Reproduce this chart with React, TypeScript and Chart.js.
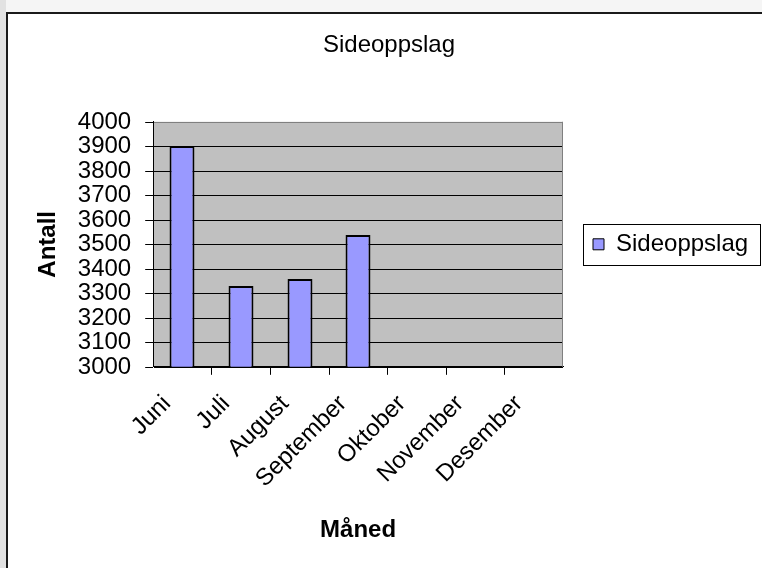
import React, { useEffect, useRef } from 'react';
import { Chart, registerables } from 'chart.js';

Chart.register(...registerables);

const CHART_TITLE = 'Sideoppslag';
const SERIES_LABEL = 'Sideoppslag';
const X_TITLE = 'Måned';
const Y_TITLE = 'Antall';
const categories = ['Juni', 'Juli', 'August', 'September', 'Oktober', 'November', 'Desember'];
const values: (number | null)[] = [3900, 3330, 3360, 3540, null, null, null];
const Y_MIN = 3000;
const Y_MAX = 4000;
const Y_STEP = 100;

const FONT = "'Liberation Sans', Arial, Helvetica, sans-serif";
const LEGEND_AREA_WIDTH = 199;

export default function App() {
  const ref = useRef<HTMLCanvasElement>(null);

  useEffect(() => {
    if (!ref.current) return;

    // Let the right-hand legend take the width the original layout gives it
    const legendWidth = {
      id: 'legendWidth',
      beforeLayout(chart: any) {
        const lg = chart.legend;
        if (lg && !lg._wPatched) {
          const orig = lg.fit;
          lg.fit = function (this: any) {
            orig.call(this);
            if (this.options.display) this.width = LEGEND_AREA_WIDTH;
          };
          lg._wPatched = true;
        }
      },
    };

    const plotDecor = {
      id: 'plotDecor',
      beforeDraw(chart: any) {
        const { ctx, chartArea: a } = chart;
        ctx.save();
        ctx.fillStyle = '#c0c0c0';
        ctx.fillRect(a.left, a.top, a.right - a.left, a.bottom - a.top);
        ctx.restore();
      },
      afterDatasetsDraw(chart: any) {
        const { ctx, chartArea: a } = chart;
        ctx.save();
        ctx.strokeStyle = '#808080';
        ctx.lineWidth = 1;
        ctx.beginPath();
        const x = Math.round(a.right) - 0.5;
        ctx.moveTo(x, a.top);
        ctx.lineTo(x, a.bottom);
        ctx.stroke();
        ctx.restore();
      },
      afterDraw(chart: any) {
        const lg = chart.legend;
        if (!lg || !lg.legendHitBoxes || !lg.legendHitBoxes.length) return;
        const hb = lg.legendHitBoxes[0];
        const { ctx } = chart;
        const cy = hb.top + hb.height / 2;
        const left = Math.round(hb.left - 10) + 0.5;
        const top = Math.round(cy - 20.5) + 0.5;
        ctx.save();
        ctx.strokeStyle = '#000';
        ctx.lineWidth = 1;
        ctx.strokeRect(left, top, chart.width - 1.5 - left, 41);
        ctx.restore();
      },
    };

    const chart = new Chart(ref.current, {
      type: 'bar',
      data: {
        labels: categories,
        datasets: [
          {
            label: SERIES_LABEL,
            data: values,
            backgroundColor: '#9999ff',
            borderColor: '#000000',
            borderWidth: 2,
            borderSkipped: false,
            barPercentage: 0.43,
            categoryPercentage: 1,
          },
        ],
      },
      options: {
        responsive: false,
        animation: false,
        devicePixelRatio: 1,
        color: '#000',
        layout: { padding: { left: 8, right: 0, top: 0, bottom: 0 } },
        plugins: {
          title: {
            display: true,
            text: CHART_TITLE,
            color: '#000',
            font: { family: FONT, size: 24, weight: 'normal' },
            padding: { top: 17, bottom: 62 },
          },
          legend: {
            display: true,
            position: 'right',
            fullSize: false,
            labels: {
              color: '#000',
              font: { family: FONT, size: 24 },
              boxWidth: 11,
              boxHeight: 11,
              padding: 30,
              generateLabels: (c: any) =>
                (Chart.defaults.plugins.legend.labels as any)
                  .generateLabels(c)
                  .map((l: any) => ({ ...l, lineWidth: 1 })),
            },
          },
          tooltip: { enabled: false },
        },
        scales: {
          x: {
            alignToPixels: true,
            offset: true,
            grid: {
              display: true,
              offset: true,
              drawOnChartArea: false,
              drawTicks: true,
              tickLength: 8,
              tickColor: '#000',
              color: '#000',
            },
            border: { display: true, color: '#000', width: 1 },
            ticks: {
              color: '#000',
              font: { family: FONT, size: 24 },
              autoSkip: false,
              minRotation: 45,
              maxRotation: 45,
              padding: 15,
              labelOffset: -15,
            },
            title: {
              display: true,
              text: X_TITLE,
              color: '#000',
              font: { family: FONT, size: 24, weight: 'bold' },
              padding: { top: 8, bottom: 23 },
            },
          },
          y: {
            alignToPixels: true,
            min: Y_MIN,
            max: Y_MAX,
            grid: {
              display: true,
              drawOnChartArea: true,
              drawTicks: true,
              tickLength: 8,
              tickColor: '#000',
              color: (ctx: any) => (ctx.tick && ctx.tick.value === Y_MAX ? '#808080' : '#000'),
              lineWidth: 1,
            },
            border: { display: true, color: '#000', width: 1 },
            ticks: {
              stepSize: Y_STEP,
              autoSkip: false,
              color: '#000',
              font: { family: FONT, size: 24 },
              padding: 14,
              callback: (v: any) => String(v),
            },
            title: {
              display: true,
              text: Y_TITLE,
              color: '#000',
              font: { family: FONT, size: 24, weight: 'bold' },
              padding: { top: 18, bottom: 1 },
            },
          },
        },
      },
      plugins: [legendWidth, plotDecor],
    } as any);

    return () => chart.destroy();
  }, []);

  return (
    <div style={{ position: 'fixed', left: 0, top: 0, width: 762, height: 568, background: '#fff', overflow: 'hidden' }}>
      <div style={{ position: 'absolute', left: 0, top: 0, width: 762, height: 12, background: '#f5f5f5' }} />
      <div style={{ position: 'absolute', left: 0, top: 0, width: 6, height: 568, background: '#e2e2e2' }} />
      <div
        style={{
          position: 'absolute',
          left: 6,
          top: 12,
          width: 756,
          height: 556,
          boxSizing: 'border-box',
          borderLeft: '2px solid #1a1a1a',
          borderTop: '2px solid #1a1a1a',
          background: '#fff',
        }}
      />
      <canvas
        ref={ref}
        width={754}
        height={554}
        style={{ position: 'absolute', left: 8, top: 14, width: 754, height: 554 }}
      />
    </div>
  );
}
